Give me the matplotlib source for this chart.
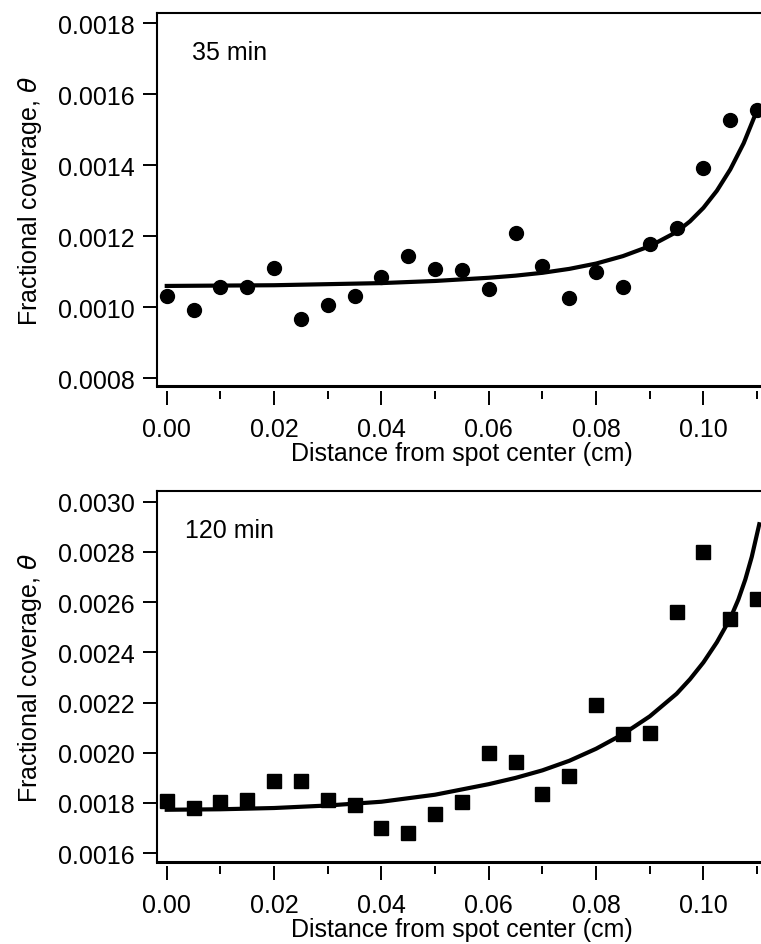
import matplotlib
matplotlib.use('Agg')
import matplotlib.pyplot as plt
from matplotlib.ticker import MultipleLocator, FormatStrFormatter

plt.rcParams['font.family'] = ['Liberation Sans', 'DejaVu Sans']
plt.rcParams['mathtext.fontset'] = 'dejavusans'

# Distances (cm) at which coverage was measured
dist = [0.000, 0.005, 0.010, 0.015, 0.020, 0.025, 0.030, 0.035, 0.040, 0.045, 0.050, 0.055,
        0.060, 0.065, 0.070, 0.075, 0.080, 0.085, 0.090, 0.095, 0.100, 0.105, 0.110]

# 35 min data (circles)
cov35 = [0.001033, 0.000993, 0.001057, 0.001058, 0.001110, 0.000967, 0.001005, 0.001031,
         0.001085, 0.001144, 0.001109, 0.001104, 0.001052, 0.001208, 0.001116, 0.001025,
         0.001099, 0.001057, 0.001177, 0.001222, 0.001392, 0.001528, 0.001556]

# 120 min data (squares)
cov120 = [0.001809, 0.001780, 0.001802, 0.001812, 0.001886, 0.001888, 0.001812, 0.001792,
          0.001700, 0.001679, 0.001756, 0.001805, 0.002001, 0.001962, 0.001835, 0.001908,
          0.002190, 0.002074, 0.002077, 0.002559, 0.002798, 0.002533, 0.002612]

# fitted curves
fit35_x = [0.000, 0.010, 0.020, 0.030, 0.040, 0.050, 0.060, 0.065, 0.070, 0.075, 0.080,
           0.085, 0.090, 0.095, 0.0975, 0.100, 0.1025, 0.105, 0.1075, 0.110]
fit35_y = [0.001060, 0.001061, 0.001062, 0.001065, 0.001068, 0.001074, 0.001083, 0.001089,
           0.001097, 0.001108, 0.001123, 0.001144, 0.001172, 0.001212, 0.001242, 0.001280,
           0.001328, 0.001388, 0.001462, 0.001555]

fit120_x = [0.000, 0.010, 0.020, 0.030, 0.040, 0.050, 0.060, 0.065, 0.070, 0.075, 0.080,
            0.085, 0.090, 0.095, 0.0975, 0.100, 0.1025, 0.105, 0.1065, 0.1078, 0.109, 0.1104]
fit120_y = [0.001773, 0.001775, 0.001780, 0.001790, 0.001805, 0.001833, 0.001875, 0.001900,
            0.001930, 0.001968, 0.002016, 0.002074, 0.002145, 0.002235, 0.002293, 0.002360,
            0.002440, 0.002535, 0.002610, 0.002690, 0.002780, 0.002910]

fig = plt.figure(figsize=(7.61, 9.45), dpi=100)
ax1 = fig.add_axes([0.206, 0.590, 0.803, 0.395])
ax2 = fig.add_axes([0.206, 0.0865, 0.803, 0.3925])


def style(ax, ylim, label, lx):
    ax.set_xlim(-0.00186, 0.112)
    ax.set_ylim(*ylim)
    ax.yaxis.set_major_locator(MultipleLocator(0.0002))
    ax.yaxis.set_major_formatter(FormatStrFormatter('%.4f'))
    ax.xaxis.set_major_locator(MultipleLocator(0.02))
    ax.xaxis.set_minor_locator(MultipleLocator(0.01))
    ax.xaxis.set_major_formatter(FormatStrFormatter('%.2f'))
    ax.tick_params(axis='both', which='major', direction='out', length=10, width=1.4,
                   labelsize=18, color='black')
    ax.tick_params(axis='y', pad=6)
    ax.tick_params(axis='x', pad=9)
    ax.tick_params(axis='x', which='minor', direction='out', length=6, width=1.4)
    ax.spines['right'].set_visible(False)
    ax.spines['top'].set_linewidth(1.5)
    ax.spines['left'].set_linewidth(1.5)
    # ticks hang slightly below the frame
    ax.spines['bottom'].set_position(('outward', 3))
    ax.spines['bottom'].set_visible(False)
    ax.axhline(ylim[0], color='black', linewidth=2.2, clip_on=False)
    ax.set_xlabel('Distance from spot center (cm)', fontsize=18, labelpad=0)
    ax.set_ylabel(r'Fractional coverage, $\theta$', fontsize=18, labelpad=10)
    ax.text(lx, 0.895, label, transform=ax.transAxes, fontsize=18, va='center', ha='left')


ax1.plot(fit35_x, fit35_y, color='black', linewidth=3)
ax1.plot(dist, cov35, 'o', color='black', markersize=10, clip_on=False)
style(ax1, (0.000777, 0.001828), '35 min', 0.057)

ax2.plot(fit120_x, fit120_y, color='black', linewidth=3)
ax2.plot(dist, cov120, 's', color='black', markersize=9.4, clip_on=False)
style(ax2, (0.001564, 0.003041), '120 min', 0.046)

fig.savefig('out.png', dpi=100)
